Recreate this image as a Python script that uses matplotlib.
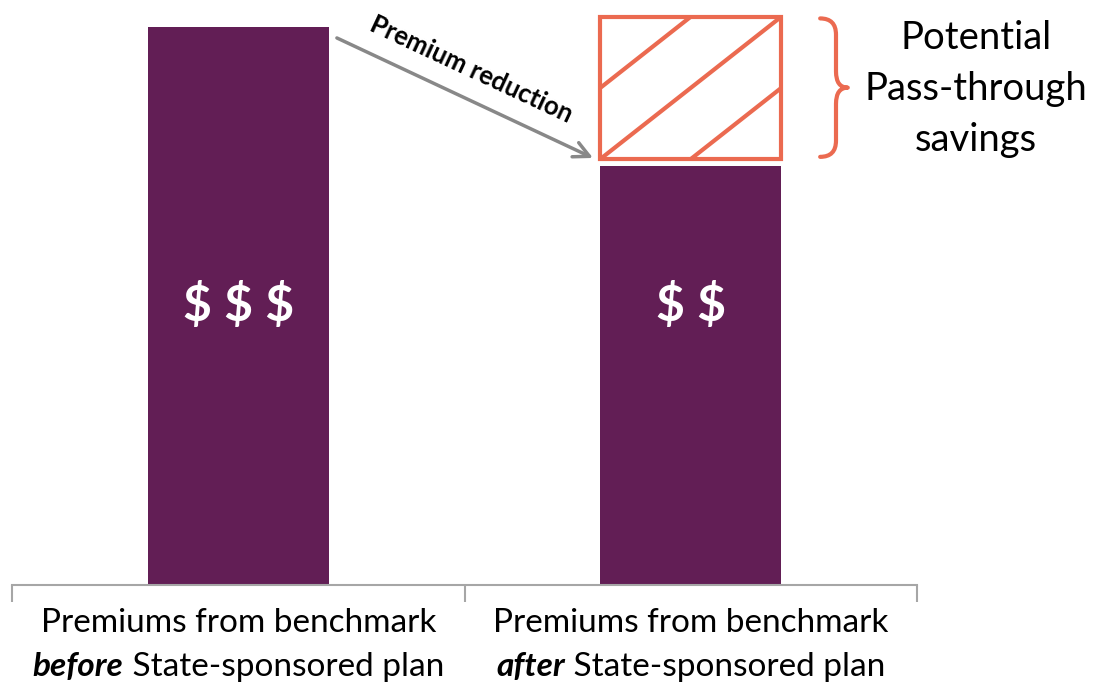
import matplotlib
matplotlib.use('Agg')
import matplotlib.pyplot as plt
import matplotlib.transforms as mtransforms
from matplotlib.patches import Rectangle, PathPatch
from matplotlib.path import Path
from matplotlib.ticker import FixedLocator, NullFormatter

plt.rcParams['font.family'] = ['Lato', 'DejaVu Sans']

# data
categories = ['before', 'after']
premiums = [100, 75]
bar_labels = ['$ $ $', '$ $']
label_top = ['Premiums from benchmark', 'Premiums from benchmark']
label_emph = ['before', 'after']
label_rest = [' State-sponsored plan', ' State-sponsored plan']
savings_range = [76.3, 101.8]   # hatched pass-through block above the 2nd bar
savings_text = 'Potential\nPass-through\nsavings'

PURPLE = '#621E55'
CORAL = '#EB6A50'
GRAY = '#888888'
AXIS_GRAY = '#A6A6A6'
BAR_W = 0.4

fig = plt.figure(figsize=(10.95, 6.82), dpi=100)
ax = fig.add_axes([12 / 1095, 97 / 682, 905 / 1095, 585 / 682])
x = list(range(len(categories)))
ax.bar(x, premiums, width=BAR_W, color=PURPLE, zorder=2)
ax.set_xlim(-0.5, 1.5)
ax.set_ylim(0, 104.8)

for xi, lab in zip(x, bar_labels):
    ax.text(xi, 50.0, lab, color='white', fontsize=36, fontweight='bold',
            ha='center', va='center', parse_math=False, zorder=3)

# hatched "savings" block sitting on the second bar
lo, hi = savings_range
x0 = x[1] - BAR_W / 2
ax.add_patch(Rectangle((x0, lo), BAR_W, hi - lo, fill=False,
                       edgecolor=CORAL, lw=3, zorder=3))
for c in (-0.5, 0.0, 0.5):
    if c <= 0:
        u = [0, 1 + c]
        v = [-c, 1]
    else:
        u = [c, 1]
        v = [0, 1 - c]
    ax.plot([x0 + ui * BAR_W for ui in u], [lo + vi * (hi - lo) for vi in v],
            color=CORAL, lw=3, solid_capstyle='butt', zorder=3)

# curly brace to the right of the block
bx0, bxv, bxt = 1.286, 1.321, 1.347
yt, yb = hi - 0.3, lo + 0.4
ym = (yt + yb) / 2
r = 2.9
verts = [(bx0, yt), (bxv, yt), (bxv, yt - r),
         (bxv, ym + r), (bxv, ym), (bxt, ym),
         (bxv, ym), (bxv, ym - r),
         (bxv, yb + r), (bxv, yb), (bx0, yb)]
codes = [Path.MOVETO, Path.CURVE3, Path.CURVE3,
         Path.LINETO, Path.CURVE3, Path.CURVE3,
         Path.CURVE3, Path.CURVE3,
         Path.LINETO, Path.CURVE3, Path.CURVE3]
ax.add_patch(PathPatch(Path(verts, codes), fill=False, edgecolor=CORAL,
                       lw=3, capstyle='round', joinstyle='round', clip_on=False))
ax.text(1.63, 88.8, savings_text, fontsize=27.5, ha='center', va='center',
        linespacing=1.52)

# premium reduction arrow
ax.annotate('', xy=(0.784, 76.5), xytext=(0.218, 98.0),
            arrowprops=dict(arrowstyle='->', color=GRAY, lw=2.5,
                            mutation_scale=28, shrinkA=0, shrinkB=0))
ax.text(0.516, 92.3, 'Premium reduction', fontsize=18.5, fontweight='bold',
        rotation=-25, rotation_mode='anchor', ha='center', va='center')

# axes styling
for s in ('left', 'top', 'right'):
    ax.spines[s].set_visible(False)
ax.spines['bottom'].set_color(AXIS_GRAY)
ax.spines['bottom'].set_linewidth(1.5)
ax.set_yticks([])
ax.xaxis.set_major_locator(FixedLocator(x))
ax.xaxis.set_major_formatter(NullFormatter())
ax.tick_params(axis='x', which='major', length=0)
ax.xaxis.set_minor_locator(FixedLocator([-0.5, 0.5, 1.5]))
ax.tick_params(axis='x', which='minor', length=12, width=1.5, color=AXIS_GRAY)

# two-line category labels, second line with bold italic keyword
trans = mtransforms.blended_transform_factory(ax.transData, ax.transAxes)
renderer = fig.canvas.get_renderer()
for xi, top, emph, rest in zip(x, label_top, label_emph, label_rest):
    ax.text(xi, -0.0803, top, transform=trans, fontsize=24,
            ha='center', va='baseline')
    t1 = ax.text(xi, -0.1556, emph, transform=trans, fontsize=24,
                 fontweight='bold', fontstyle='italic', ha='left', va='baseline')
    t2 = ax.text(xi, -0.1556, rest, transform=trans, fontsize=24,
                 ha='left', va='baseline')
    w1 = t1.get_window_extent(renderer).width
    w2 = t2.get_window_extent(renderer).width
    start = -(w1 + w2) / 2
    t1.set_transform(mtransforms.offset_copy(trans, fig, x=start, y=0, units='dots'))
    t2.set_transform(mtransforms.offset_copy(trans, fig, x=start + w1, y=0, units='dots'))

fig.savefig('out.png', dpi=100)
